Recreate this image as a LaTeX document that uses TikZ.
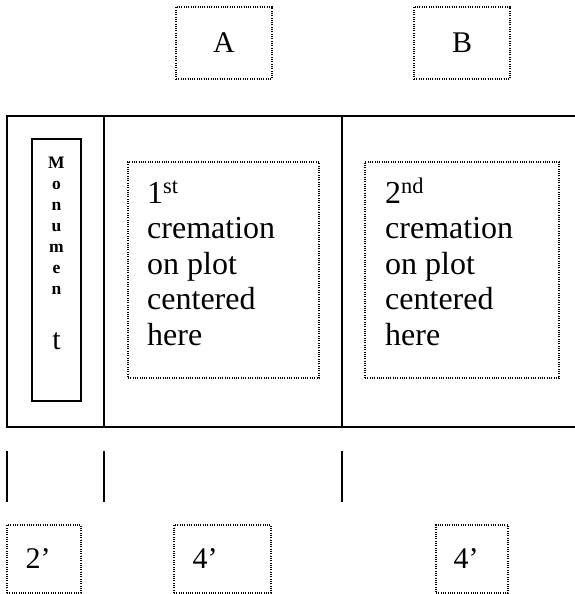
\documentclass[tikz,border=0pt]{standalone}
\usepackage{fontspec}
\setmainfont{Liberation Serif}
\usetikzlibrary{positioning}

\tikzset{
  dotbox/.style={draw, line width=1.1pt, dash pattern=on 1pt off 1.3pt, inner sep=0pt},
  wall/.style={line width=1.3pt},
  dimtext/.style={font=\fontsize{30}{36}\selectfont, inner sep=0pt},
  plottext/.style={font=\fontsize{32}{35.5}\selectfont, align=left, inner sep=0pt, anchor=base west},
  monoletter/.style={font=\fontsize{17.5}{21}\selectfont\bfseries, inner sep=0pt, anchor=base},
}

\begin{document}
\begin{tikzpicture}[x=1pt, y=-1pt]
\useasboundingbox (0,0) rectangle (575,594);

% row labels on top
\node[dotbox, dimtext, minimum width=96pt, minimum height=72pt] (A) at (224,43) {A};
\node[dotbox, dimtext, minimum width=96pt, minimum height=72pt] (B) at (462,43) {B};

% the plot
\draw[wall] (575,116) -- (7,116) -- (7,427) -- (575,427);
\draw[wall] (104,116) -- (104,427);
\draw[wall] (342,116) -- (342,427);

% monument
\draw[line width=1.1pt] (32,139) rectangle (81,401);
\foreach \c [count=\i] in {M,o,n,u,m,e,n}
  \node[monoletter] (m\i) at (56.5,147+21*\i) {\c};
\node[font=\fontsize{30}{30}\selectfont, inner sep=0pt, anchor=base] (mt) at (56.5,349) {t};

% cremation spots
\node[dotbox, minimum width=191pt, minimum height=216pt] (plot1) at (223.5,270) {};
\node[dotbox, minimum width=194pt, minimum height=216pt] (plot2) at (462,270) {};
\node[plottext] (plot1text) at (147,345)
  {1\textsuperscript{st}\\cremation\\on plot\\centered\\here};
\node[plottext] (plot2text) at (385,345)
  {2\textsuperscript{nd}\\cremation\\on plot\\centered\\here};

% ticks
\foreach \x in {7,104,342}
  \draw[wall] (\x,451) -- (\x,502);

% widths
\node[dotbox, minimum width=74pt, minimum height=68pt] (w1) at (44,559) {};
\node[dotbox, minimum width=97pt, minimum height=68pt] (w2) at (222.5,559) {};
\node[dotbox, minimum width=72pt, minimum height=68pt] (w3) at (472,559) {};
\node[dimtext, anchor=west] (w1text) at ([xshift=19pt]w1.west) {2’};
\node[dimtext, anchor=west] (w2text) at ([xshift=19pt]w2.west) {4’};
\node[dimtext, anchor=west] (w3text) at ([xshift=18pt]w3.west) {4’};

\end{tikzpicture}
\end{document}
